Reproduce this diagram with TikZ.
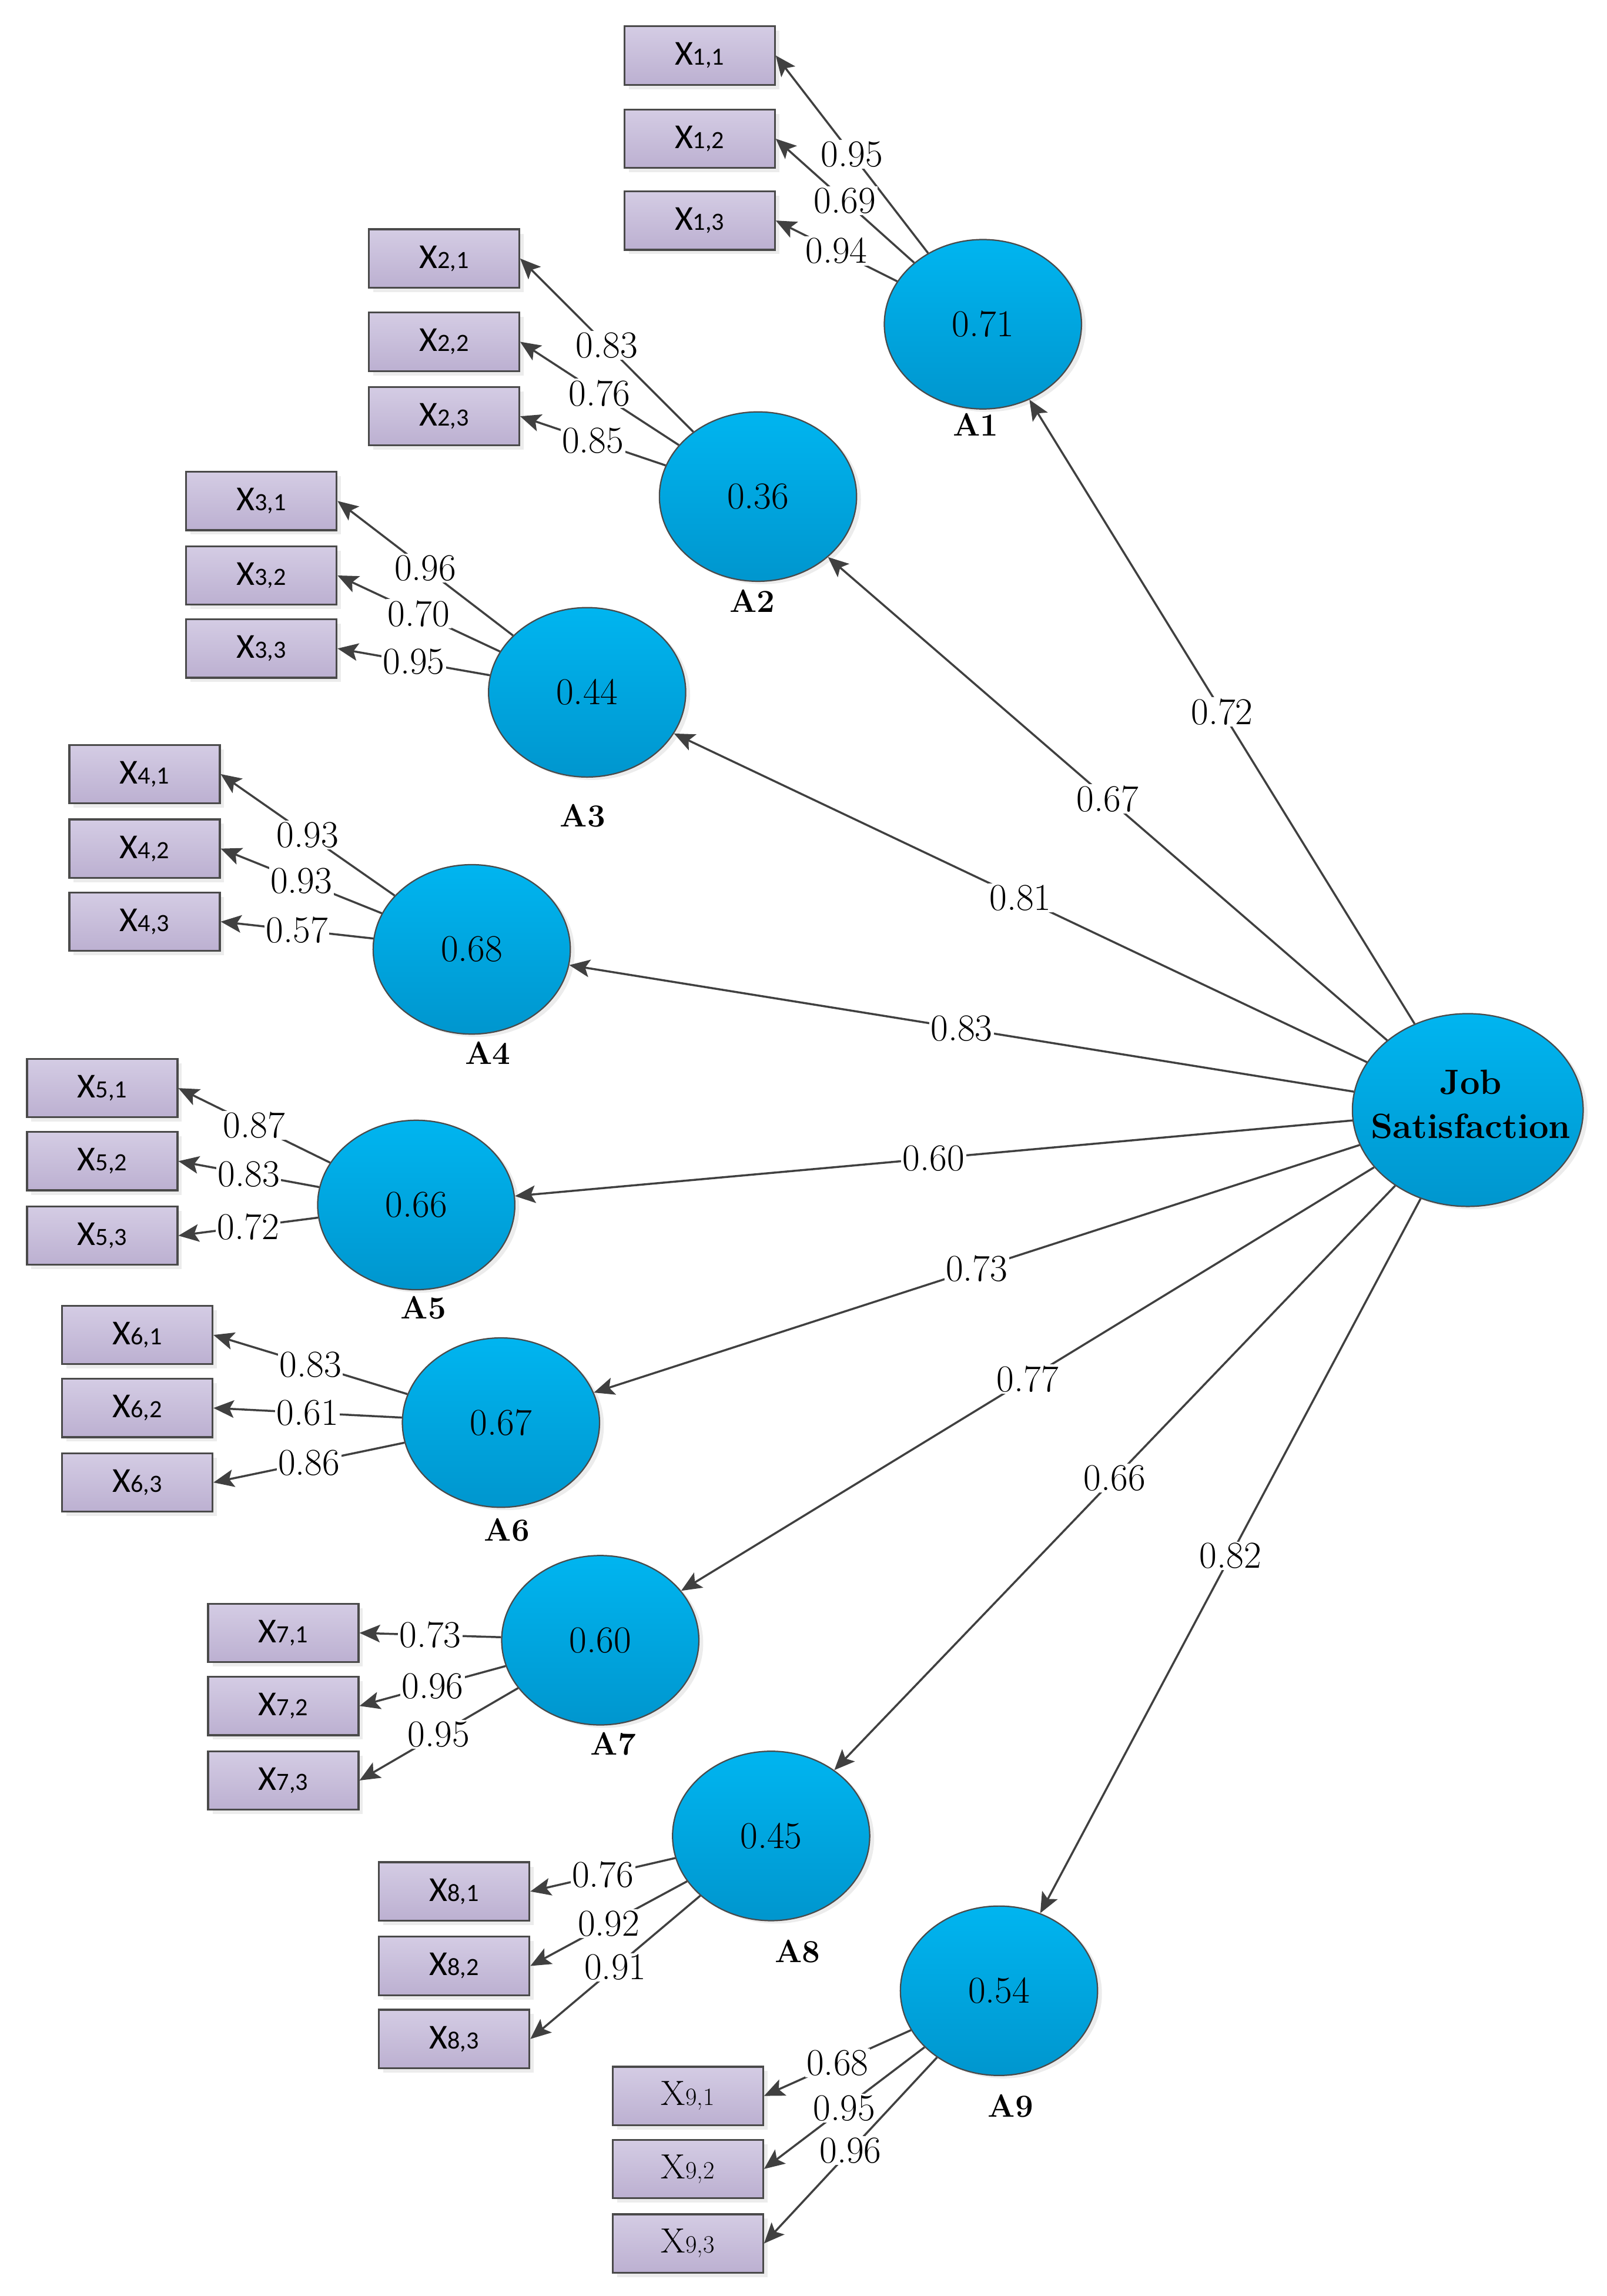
\documentclass[tikz,border=0pt]{standalone}
\usepackage{fontspec}
\usepackage{tikz}
\usepackage{xcolor}
\usetikzlibrary{positioning,shapes.geometric,shadows,arrows.meta}
\newfontfamily\itemfont{Carlito}
\definecolor{latTop}{HTML}{00B5F0}
\definecolor{latBot}{HTML}{0096CE}
\definecolor{itemTop}{HTML}{D4CCE4}
\definecolor{itemBot}{HTML}{BCB0D1}
\definecolor{edgeGray}{HTML}{4A4A4A}
\definecolor{lineGray}{HTML}{404040}
\newcommand{\itemsub}[1]{{\fontsize{17}{20}\selectfont #1}}
\tikzset{
    latent-oval/.style = {ellipse, draw=edgeGray, line width=0.9pt, top color=latTop, bottom color=latBot, minimum width=135pt, minimum height=116pt, inner sep=0pt, font=\fontsize{26}{30}\selectfont, drop shadow={shadow xshift=3pt, shadow yshift=-2pt, opacity=0.15}},
    item-box/.style = {rectangle, draw=edgeGray, line width=1.3pt, top color=itemTop, bottom color=itemBot, minimum width=103pt, minimum height=40pt, inner sep=0pt, font=\itemfont\fontsize{24}{28}\selectfont, drop shadow={shadow xshift=3pt, shadow yshift=-3pt, opacity=0.15}},
    latent-name/.style = {font=\bfseries\fontsize{22}{24}\selectfont, inner sep=0pt},
    path-arrow/.style = {draw=lineGray, line width=1.4pt, -{Stealth[length=14pt, width=12pt, inset=3pt]}},
    coef-label/.style = {fill=white, inner sep=1pt, font=\fontsize{26}{30}\selectfont, pos=0.5},
}
\begin{document}
\begin{tikzpicture}[x=1pt, y=-1pt]
\useasboundingbox (0,0) rectangle (1100,1572);

% latent variables
\node[latent-oval] (A1) at (673,222) {0.71};
\node[latent-oval] (A2) at (519,340) {0.36};
\node[latent-oval] (A3) at (402,474) {0.44};
\node[latent-oval] (A4) at (323,650) {0.68};
\node[latent-oval] (A5) at (285,825) {0.66};
\node[latent-oval] (A6) at (343,974) {0.67};
\node[latent-oval] (A7) at (411,1123) {0.60};
\node[latent-oval] (A8) at (528,1257) {0.45};
\node[latent-oval] (A9) at (684,1363) {0.54};
\node[latent-oval, minimum width=158pt, minimum height=132pt] (JS) at (1005,760) {};
\node[font=\bfseries\fontsize{24}{30}\selectfont, align=center, inner sep=0pt, xshift=2pt, yshift=4pt] (JS-text) at (JS) {Job\\Satisfaction};

\node[latent-name, below=2.5pt of A1.south, xshift=-5pt] (A1-name) {A1};
\node[latent-name, below=5pt of A2.south, xshift=-4pt] (A2-name) {A2};
\node[latent-name, below=18pt of A3.south, xshift=-3pt] (A3-name) {A3};
\node[latent-name, below=4.5pt of A4.south, xshift=11pt] (A4-name) {A4};
\node[latent-name, below=4pt of A5.south, xshift=5pt] (A5-name) {A5};
\node[latent-name, below=7pt of A6.south, xshift=4pt] (A6-name) {A6};
\node[latent-name, below=4.5pt of A7.south, xshift=9pt] (A7-name) {A7};
\node[latent-name, below=12.5pt of A8.south, xshift=18pt] (A8-name) {A8};
\node[latent-name, below=12.5pt of A9.south, xshift=8pt] (A9-name) {A9};

% indicators
\node[item-box] (X11) at (479,38) {X\itemsub{1,1}};
\node[item-box] (X12) at (479,95) {X\itemsub{1,2}};
\node[item-box] (X13) at (479,151) {X\itemsub{1,3}};
\node[item-box] (X21) at (304,177) {X\itemsub{2,1}};
\node[item-box] (X22) at (304,234) {X\itemsub{2,2}};
\node[item-box] (X23) at (304,285) {X\itemsub{2,3}};
\node[item-box] (X31) at (179,343) {X\itemsub{3,1}};
\node[item-box] (X32) at (179,394) {X\itemsub{3,2}};
\node[item-box] (X33) at (179,444) {X\itemsub{3,3}};
\node[item-box] (X41) at (99,530) {X\itemsub{4,1}};
\node[item-box] (X42) at (99,581) {X\itemsub{4,2}};
\node[item-box] (X43) at (99,631) {X\itemsub{4,3}};
\node[item-box] (X51) at (70,745) {X\itemsub{5,1}};
\node[item-box] (X52) at (70,795) {X\itemsub{5,2}};
\node[item-box] (X53) at (70,846) {X\itemsub{5,3}};
\node[item-box] (X61) at (94,914) {X\itemsub{6,1}};
\node[item-box] (X62) at (94,964) {X\itemsub{6,2}};
\node[item-box] (X63) at (94,1015) {X\itemsub{6,3}};
\node[item-box] (X71) at (194,1118) {X\itemsub{7,1}};
\node[item-box] (X72) at (194,1168) {X\itemsub{7,2}};
\node[item-box] (X73) at (194,1219) {X\itemsub{7,3}};
\node[item-box] (X81) at (311,1295) {X\itemsub{8,1}};
\node[item-box] (X82) at (311,1346) {X\itemsub{8,2}};
\node[item-box] (X83) at (311,1396) {X\itemsub{8,3}};
\node[item-box, font=\rmfamily\fontsize{24}{28}\selectfont] (X91) at (471,1435) {X\itemsub{9,1}};
\node[item-box, font=\rmfamily\fontsize{24}{28}\selectfont] (X92) at (471,1485) {X\itemsub{9,2}};
\node[item-box, font=\rmfamily\fontsize{24}{28}\selectfont] (X93) at (471,1536) {X\itemsub{9,3}};

% structural paths
\draw[path-arrow] (JS) -- node[coef-label]{0.72} (A1);
\draw[path-arrow] (JS) -- node[coef-label]{0.67} (A2);
\draw[path-arrow] (JS) -- node[coef-label]{0.81} (A3);
\draw[path-arrow] (JS) -- node[coef-label]{0.83} (A4);
\draw[path-arrow] (JS) -- node[coef-label]{0.60} (A5);
\draw[path-arrow] (JS) -- node[coef-label]{0.73} (A6);
\draw[path-arrow] (JS) -- node[coef-label]{0.77} (A7);
\draw[path-arrow] (JS) -- node[coef-label]{0.66} (A8);
\draw[path-arrow] (JS) -- node[coef-label]{0.82} (A9);

% loadings
\draw[path-arrow] (A1) -- node[coef-label]{0.95} (X11.east);
\draw[path-arrow] (A1) -- node[coef-label]{0.69} (X12.east);
\draw[path-arrow] (A1) -- node[coef-label]{0.94} (X13.east);
\draw[path-arrow] (A2) -- node[coef-label]{0.83} (X21.east);
\draw[path-arrow] (A2) -- node[coef-label]{0.76} (X22.east);
\draw[path-arrow] (A2) -- node[coef-label]{0.85} (X23.east);
\draw[path-arrow] (A3) -- node[coef-label]{0.96} (X31.east);
\draw[path-arrow] (A3) -- node[coef-label]{0.70} (X32.east);
\draw[path-arrow] (A3) -- node[coef-label]{0.95} (X33.east);
\draw[path-arrow] (A4) -- node[coef-label]{0.93} (X41.east);
\draw[path-arrow] (A4) -- node[coef-label]{0.93} (X42.east);
\draw[path-arrow] (A4) -- node[coef-label]{0.57} (X43.east);
\draw[path-arrow] (A5) -- node[coef-label]{0.87} (X51.east);
\draw[path-arrow] (A5) -- node[coef-label]{0.83} (X52.east);
\draw[path-arrow] (A5) -- node[coef-label]{0.72} (X53.east);
\draw[path-arrow] (A6) -- node[coef-label]{0.83} (X61.east);
\draw[path-arrow] (A6) -- node[coef-label]{0.61} (X62.east);
\draw[path-arrow] (A6) -- node[coef-label]{0.86} (X63.east);
\draw[path-arrow] (A7) -- node[coef-label]{0.73} (X71.east);
\draw[path-arrow] (A7) -- node[coef-label]{0.96} (X72.east);
\draw[path-arrow] (A7) -- node[coef-label]{0.95} (X73.east);
\draw[path-arrow] (A8) -- node[coef-label]{0.76} (X81.east);
\draw[path-arrow] (A8) -- node[coef-label]{0.92} (X82.east);
\draw[path-arrow] (A8) -- node[coef-label]{0.91} (X83.east);
\draw[path-arrow] (A9) -- node[coef-label]{0.68} (X91.east);
\draw[path-arrow] (A9) -- node[coef-label]{0.95} (X92.east);
\draw[path-arrow] (A9) -- node[coef-label]{0.96} (X93.east);
\end{tikzpicture}
\end{document}
